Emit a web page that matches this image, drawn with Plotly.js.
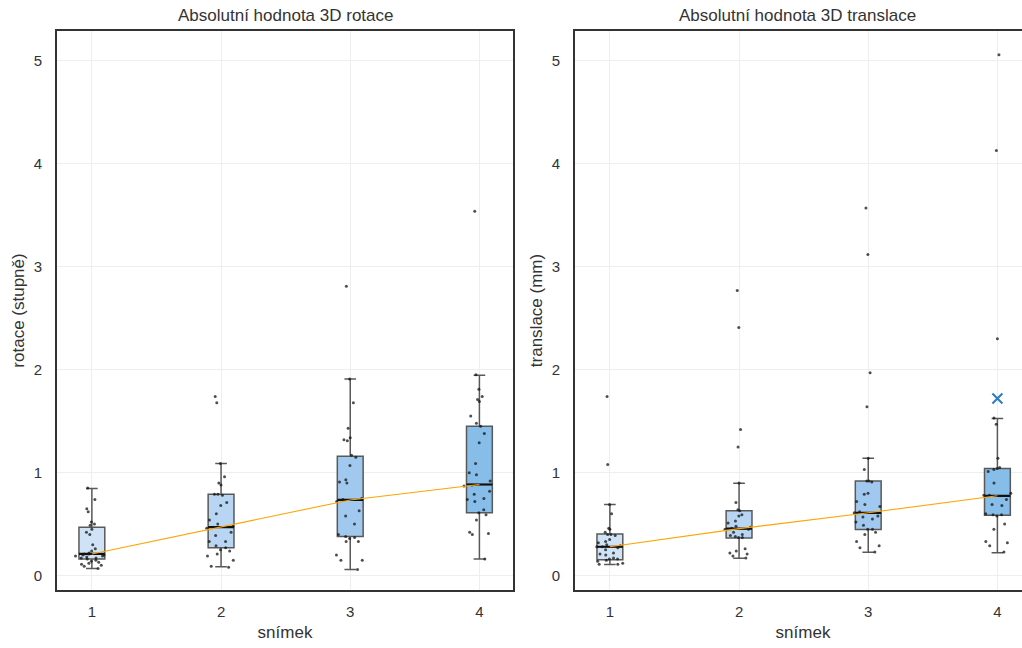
<!DOCTYPE html>
<html>
<head>
<meta charset="utf-8">
<script src="https://cdn.plot.ly/plotly-3.0.1.min.js"></script>
<style>
html, body { margin: 0; padding: 0; overflow: hidden; background: #fff; }
#chart { width: 1036px; height: 648px; }
</style>
</head>
<body>
<div id="chart"></div>
<script>
// ---- data ----
const categories = [1, 2, 3, 4];
const panelTitles = ["Absolutní hodnota 3D rotace", "Absolutní hodnota 3D translace"];
const yTitles = ["rotace (stupně)", "translace (mm)"];
const xTitle = "snímek";

// rotation: box statistics per snímek
const rotQ1 = [0.16, 0.27, 0.38, 0.61];
const rotMedian = [0.21, 0.47, 0.735, 0.885];
const rotQ3 = [0.47, 0.79, 1.16, 1.45];
const rotLower = [0.07, 0.085, 0.06, 0.16];
const rotUpper = [0.845, 1.09, 1.91, 1.945];

// rotation: individual observations
const rotPoints1 = [0.85, 0.74, 0.65, 0.62, 0.52, 0.50, 0.49, 0.45, 0.42, 0.40, 0.30, 0.26, 0.24, 0.22, 0.21, 0.21, 0.20, 0.20, 0.19, 0.19, 0.18, 0.17, 0.17, 0.16, 0.15, 0.14, 0.13, 0.12, 0.11, 0.10, 0.09, 0.07];
const rotPoints2 = [1.74, 1.68, 1.09, 0.96, 0.90, 0.88, 0.79, 0.79, 0.78, 0.71, 0.68, 0.60, 0.54, 0.50, 0.48, 0.47, 0.46, 0.42, 0.39, 0.33, 0.33, 0.29, 0.27, 0.25, 0.24, 0.21, 0.19, 0.15, 0.09, 0.08];
const rotPoints3 = [2.81, 1.91, 1.68, 1.43, 1.34, 1.32, 1.31, 1.17, 1.15, 1.07, 0.93, 0.91, 0.90, 0.75, 0.74, 0.72, 0.63, 0.58, 0.50, 0.40, 0.38, 0.37, 0.36, 0.33, 0.33, 0.20, 0.15, 0.15, 0.06];
const rotPoints4 = [3.54, 1.95, 1.81, 1.74, 1.71, 1.69, 1.55, 1.48, 1.45, 1.38, 1.29, 1.09, 1.00, 0.98, 0.92, 0.88, 0.87, 0.82, 0.79, 0.75, 0.74, 0.72, 0.64, 0.61, 0.59, 0.54, 0.42, 0.41, 0.40, 0.16];

// translation: box statistics per snímek
const trQ1 = [0.155, 0.366, 0.447, 0.585];
const trMedian = [0.28, 0.456, 0.61, 0.775];
const trQ3 = [0.405, 0.63, 0.92, 1.04];
const trLower = [0.107, 0.168, 0.226, 0.223];
const trUpper = [0.69, 0.896, 1.14, 1.525];

// translation: individual observations
const trPoints1 = [1.74, 1.08, 0.69, 0.60, 0.46, 0.45, 0.42, 0.40, 0.40, 0.39, 0.35, 0.33, 0.32, 0.30, 0.29, 0.28, 0.28, 0.27, 0.25, 0.22, 0.21, 0.20, 0.17, 0.16, 0.16, 0.15, 0.14, 0.12, 0.11, 0.11];
const trPoints2 = [2.77, 2.41, 1.42, 1.25, 0.90, 0.71, 0.64, 0.63, 0.59, 0.58, 0.53, 0.51, 0.48, 0.47, 0.46, 0.45, 0.45, 0.42, 0.40, 0.39, 0.38, 0.37, 0.37, 0.26, 0.24, 0.22, 0.21, 0.19, 0.17];
const trPoints3 = [3.57, 3.12, 1.97, 1.64, 1.14, 1.03, 0.92, 0.92, 0.91, 0.80, 0.79, 0.72, 0.69, 0.67, 0.62, 0.61, 0.58, 0.57, 0.55, 0.52, 0.49, 0.45, 0.45, 0.42, 0.40, 0.33, 0.29, 0.27, 0.23];
const trPoints4 = [5.06, 4.13, 2.30, 1.53, 1.47, 1.14, 1.05, 1.04, 1.03, 1.01, 0.90, 0.80, 0.78, 0.78, 0.74, 0.69, 0.68, 0.60, 0.59, 0.59, 0.58, 0.50, 0.45, 0.33, 0.32, 0.29, 0.23];

// highlighted translation observation (blue cross)
const trHighlightX = [4];
const trHighlightY = [1.72];

// ---- styles ----
const boxFill = ["#cfe2f6", "#b8d6f3", "#a1c9ef", "#86bde9"];
const boxLine = "#595959";
const FONT = "Liberation Sans, Arial, sans-serif";

const traces = [];

function addPanel(xa, ya, q1, med, q3, lo, hi, pointSets) {
  categories.forEach((c, i) => {
    traces.push({
      type: "box", xaxis: xa, yaxis: ya, x: [c],
      q1: [q1[i]], median: [med[i]], q3: [q3[i]], lowerfence: [lo[i]], upperfence: [hi[i]],
      width: 0.2, whiskerwidth: 0.45,
      fillcolor: boxFill[i], line: { color: boxLine, width: 1.5 },
      boxpoints: false, showlegend: false, hoverinfo: "skip"
    });
  });
  // trend line through medians
  traces.push({
    type: "scatter", mode: "lines", xaxis: xa, yaxis: ya,
    x: categories, y: med, line: { color: "#ffa500", width: 1.1 },
    showlegend: false, hoverinfo: "skip"
  });
  // median bars (black)
  categories.forEach((c, i) => {
    traces.push({
      type: "box", xaxis: xa, yaxis: ya, x: [c],
      q1: [med[i]], median: [med[i]], q3: [med[i]], lowerfence: [med[i]], upperfence: [med[i]],
      width: 0.2, whiskerwidth: 0,
      fillcolor: "rgba(0,0,0,0)", line: { color: "#111111", width: 2.2 },
      boxpoints: false, showlegend: false, hoverinfo: "skip"
    });
  });
  // jittered points
  categories.forEach((c, i) => {
    const pts = pointSets[i];
    traces.push({
      type: "box", xaxis: xa, yaxis: ya,
      x: pts.map(() => c), y: pts,
      width: 0.26, boxpoints: "all", jitter: 1, pointpos: 0,
      fillcolor: "rgba(0,0,0,0)", line: { color: "rgba(0,0,0,0)", width: 0 },
      marker: { color: "rgba(20,20,20,0.75)", size: 3 },
      showlegend: false, hoverinfo: "y"
    });
  });
}

addPanel("x", "y", rotQ1, rotMedian, rotQ3, rotLower, rotUpper, [rotPoints1, rotPoints2, rotPoints3, rotPoints4]);
addPanel("x2", "y2", trQ1, trMedian, trQ3, trLower, trUpper, [trPoints1, trPoints2, trPoints3, trPoints4]);

traces.push({
  type: "scatter", mode: "markers", xaxis: "x2", yaxis: "y2",
  x: trHighlightX, y: trHighlightY,
  marker: { symbol: "x-thin-open", size: 10, line: { color: "#2a7cc4", width: 2 }, color: "#2a7cc4" },
  showlegend: false
});

function xAxis(domain, anchor) {
  return {
    domain: domain, anchor: anchor, range: [0.73, 4.26],
    tickmode: "array", tickvals: categories, ticktext: categories.map(String),
    showgrid: true, gridcolor: "#eeeeee", gridwidth: 1, zeroline: false,
    showline: true, mirror: true, linecolor: "#333333", linewidth: 2,
    ticks: "outside", ticklen: 7, tickcolor: "rgba(0,0,0,0)",
    tickfont: { family: FONT, size: 15, color: "#333333" },
    title: { text: xTitle, font: { family: FONT, size: 17, color: "#333333" }, standoff: 7 }
  };
}
function yAxis(anchor, title) {
  return {
    anchor: anchor, range: [-0.14, 5.29], dtick: 1, tick0: 0,
    showgrid: true, gridcolor: "#eeeeee", gridwidth: 1, zeroline: false,
    showline: true, mirror: true, linecolor: "#333333", linewidth: 2,
    ticks: "outside", ticklen: 10, tickcolor: "rgba(0,0,0,0)",
    tickfont: { family: FONT, size: 15, color: "#333333" },
    title: { text: title, font: { family: FONT, size: 17, color: "#333333" }, standoff: 5 }
  };
}

const d1 = [0, 456 / 974];
const d2 = [518 / 974, 1];

const layout = {
  width: 1036, height: 648,
  margin: { l: 57, r: 5, t: 31, b: 58 },
  paper_bgcolor: "#ffffff", plot_bgcolor: "#ffffff",
  boxmode: "overlay", showlegend: false,
  xaxis: xAxis(d1, "y"),
  yaxis: yAxis("x", yTitles[0]),
  xaxis2: xAxis(d2, "y2"),
  yaxis2: yAxis("x2", yTitles[1]),
  annotations: [
    { text: panelTitles[0], xref: "paper", yref: "paper", x: (d1[0] + d1[1]) / 2, xanchor: "center", y: 1, yanchor: "bottom", yshift: 4, showarrow: false, font: { family: FONT, size: 17, color: "#333333" } },
    { text: panelTitles[1], xref: "paper", yref: "paper", x: (d2[0] + d2[1]) / 2 - 0.006, xanchor: "center", y: 1, yanchor: "bottom", yshift: 4, showarrow: false, font: { family: FONT, size: 17, color: "#333333" } }
  ]
};

Plotly.newPlot("chart", traces, layout, { displayModeBar: false, staticPlot: true });
</script>
</body>
</html>
